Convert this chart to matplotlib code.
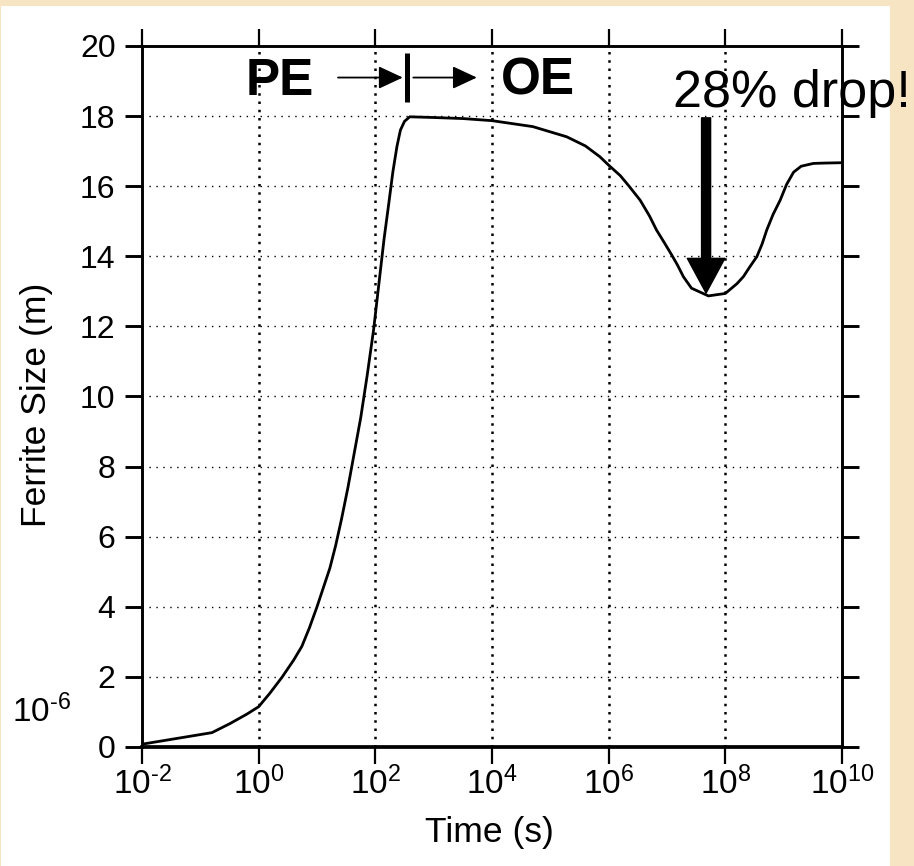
import numpy as np
import matplotlib
matplotlib.use('Agg')
import matplotlib.pyplot as plt
from matplotlib.patches import Rectangle
from matplotlib.ticker import FuncFormatter, NullLocator

plt.rcParams['font.family'] = ['Liberation Sans', 'DejaVu Sans']
plt.rcParams['mathtext.fontset'] = 'custom'
plt.rcParams['mathtext.rm'] = 'Liberation Sans'
plt.rcParams['mathtext.it'] = 'Liberation Sans:italic'
plt.rcParams['mathtext.bf'] = 'Liberation Sans:bold'
plt.rcParams['mathtext.default'] = 'regular'
plt.rcParams['axes.unicode_minus'] = False

# curve: exponent of time (s) and ferrite size (x1e-6 m)
log10_time = [-2, -0.8, -0.49, -0.2, 0.0, 0.19, 0.4, 0.6, 0.74, 0.87, 1.0, 1.1,
              1.22, 1.32, 1.42, 1.53, 1.64, 1.75, 1.86, 1.97, 2.06, 2.15, 2.23, 2.3,
              2.37, 2.43, 2.5, 2.59, 3.0, 3.5, 4.0, 4.7, 5.28, 5.6, 5.85, 6.0,
              6.2, 6.35, 6.54, 6.7, 6.82, 6.95, 7.08, 7.18, 7.28, 7.42, 7.71, 8.0,
              8.1, 8.2, 8.31, 8.42, 8.54, 8.63, 8.71, 8.82, 8.94, 9.05, 9.17, 9.3,
              9.51, 9.7, 10.0]
ferrite_size = [0.08, 0.41, 0.67, 0.94, 1.15, 1.53, 1.99, 2.48, 2.87, 3.4, 4.0, 4.5,
                5.1, 5.75, 6.5, 7.4, 8.4, 9.4, 10.6, 11.9, 13.2, 14.5, 15.5, 16.4,
                17.13, 17.6, 17.85, 17.98, 17.96, 17.93, 17.87, 17.70, 17.41, 17.15, 16.84, 16.6,
                16.3, 16.0, 15.6, 15.15, 14.75, 14.4, 14.04, 13.75, 13.42, 13.09, 12.87, 12.94,
                13.08, 13.22, 13.42, 13.7, 13.99, 14.35, 14.75, 15.2, 15.6, 16.05, 16.4, 16.57,
                16.65, 16.66, 16.67]
x_ticks = [1e-2, 1e0, 1e2, 1e4, 1e6, 1e8, 1e10]
y_ticks = [0, 2, 4, 6, 8, 10, 12, 14, 16, 18, 20]

t = 10.0 ** np.array(log10_time)


def pow_label(v, pos):
    e = int(round(np.log10(v)))
    if e < 0:
        return r'$10^{\text{-}%d}$' % (-e)
    return r'$10^{%d}$' % e


fig = plt.figure(figsize=(9.14, 8.66), dpi=100, facecolor='#F6E4C3')
fig.add_artist(Rectangle((1 / 914, 0), 889 / 914, 860 / 866, transform=fig.transFigure,
                         facecolor='white', edgecolor='none', zorder=-10))
ax = fig.add_axes([142 / 914, 119 / 866, 700 / 914, 701 / 866])
ax.set_facecolor('white')

ax.plot(t, ferrite_size, color='black', lw=2.0, zorder=3, solid_joinstyle='round')

ax.set_xscale('log')
ax.set_xlim(1e-2, 1e10)
ax.set_ylim(0, 20)
ax.set_xticks(x_ticks)
ax.set_yticks(y_ticks)
ax.xaxis.set_minor_locator(NullLocator())
ax.xaxis.set_major_formatter(FuncFormatter(pow_label))

# grid: heavier dots vertical, fine dots horizontal
for xv in x_ticks[1:-1]:
    ax.axvline(xv, color='black', lw=1.8, dashes=(1, 2.3), zorder=1)
for yv in y_ticks[1:-1]:
    ax.axhline(yv, color='black', lw=1.0, dashes=(1, 4), zorder=1)

for s in ['left', 'right', 'top']:
    ax.spines[s].set_linewidth(2.1)
ax.spines['bottom'].set_linewidth(2.7)

ax.tick_params(axis='y', which='major', direction='out', length=12, width=2.1,
               labelsize=23, pad=7, left=True, right=True)
ax.tick_params(axis='x', which='major', direction='out', length=12, width=1.6,
               labelsize=24, pad=2, top=True, bottom=True)

ax.set_xlabel('Time (s)', fontsize=25.5)
ax.xaxis.set_label_coords(0.497, -0.098)
ax.set_ylabel('Ferrite Size (m)', fontsize=25.5)
ax.yaxis.set_label_coords(-0.127, 0.488)

fig.text(12 / 914, (866 - 722) / 866, r'$10^{\text{-}6}$', fontsize=24, ha='left', va='baseline')

# PE -> | -> OE
ax.text(10 ** 0.36, 19.0, 'PE', fontsize=37, fontweight='bold', ha='center', va='center')
ax.text(10 ** 4.78, 19.0, 'OE', fontsize=37, fontweight='bold', ha='center', va='center')
small_head = dict(arrowstyle='-|>,head_length=15,head_width=7', mutation_scale=1,
                  color='black', lw=1.3, shrinkA=0, shrinkB=0)
ax.annotate('', xy=(10 ** 2.47, 19.1), xytext=(10 ** 1.36, 19.1), arrowprops=small_head)
ax.annotate('', xy=(10 ** 3.74, 19.1), xytext=(10 ** 2.65, 19.1), arrowprops=small_head)
ax.plot([10 ** 2.54, 10 ** 2.54], [18.4, 19.8], color='black', lw=3.6, solid_capstyle='butt')

# 28% drop annotation
ax.text(10 ** 7.10, 18.26, '28% drop!', fontsize=37.5, ha='left', va='baseline',
        clip_on=False, zorder=5)
ax.annotate('', xy=(10 ** 7.67, 12.95), xytext=(10 ** 7.67, 17.95),
            arrowprops=dict(arrowstyle='simple,head_length=25,head_width=27,tail_width=6.5',
                            mutation_scale=1, color='black', shrinkA=0, shrinkB=0),
            zorder=4)

fig.savefig('out.png', dpi=100, facecolor=fig.get_facecolor())
